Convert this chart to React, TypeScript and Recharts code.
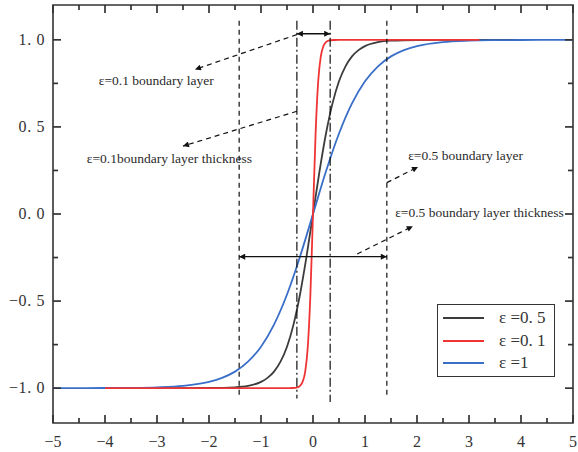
import React from "react";
import { LineChart, Line, XAxis, YAxis, ReferenceLine, ReferenceDot, ReferenceArea } from "recharts";

// x positions, one list per curve
const blueX = [-5, -4.5, -4, -3.5, -3, -2.5, -2, -1.75, -1.5, -1.25, -1, -0.75, -0.5, -0.25, 0, 0.25, 0.5, 0.75, 1, 1.25, 1.5, 1.75, 2, 2.5, 3, 3.5, 4, 4.5, 5];
const blueY = [-1, -1, -0.999, -0.998, -0.995, -0.987, -0.964, -0.941, -0.905, -0.848, -0.762, -0.635, -0.462, -0.245, 0, 0.245, 0.462, 0.635, 0.762, 0.848, 0.905, 0.941, 0.964, 0.987, 0.995, 0.998, 0.999, 1, 1];

const blackX = [-4, -3, -2, -1.5, -1.25, -1, -0.875, -0.75, -0.625, -0.5, -0.375, -0.25, -0.125, 0, 0.125, 0.25, 0.375, 0.5, 0.625, 0.75, 0.875, 1, 1.25, 1.5, 2, 3, 4];
const blackY = [-1, -1, -0.999, -0.995, -0.987, -0.964, -0.941, -0.905, -0.848, -0.762, -0.635, -0.462, -0.245, 0, 0.245, 0.462, 0.635, 0.762, 0.848, 0.905, 0.941, 0.964, 0.987, 0.995, 0.999, 1, 1];

const redX = [-4, -2, -1, -0.5, -0.4, -0.3, -0.25, -0.2, -0.15, -0.1, -0.05, 0, 0.05, 0.1, 0.15, 0.2, 0.25, 0.3, 0.4, 0.5, 1, 2, 3.2];
const redY = [-1, -1, -1, -1, -0.999, -0.995, -0.987, -0.964, -0.905, -0.762, -0.462, 0, 0.462, 0.762, 0.905, 0.964, 0.987, 0.995, 0.999, 1, 1, 1, 1];

const seriesNames = ["ε =0. 5", "ε =0. 1", "ε =1"];
const seriesColors = ["#3c3c3c", "#f03434", "#3a6fc8"];

const xTicks = [-5, -4.5, -4, -3.5, -3, -2.5, -2, -1.5, -1, -0.5, 0, 0.5, 1, 1.5, 2, 2.5, 3, 3.5, 4, 4.5, 5];
const xLabels: Record<number, string> = { "-5": "−5", "-4": "−4", "-3": "−3", "-2": "−2", "-1": "−1", 0: "0", 1: "1", 2: "2", 3: "3", 4: "4", 5: "5" };
const yTicks = [-1, -0.75, -0.5, -0.25, 0, 0.25, 0.5, 0.75, 1];
const yLabels: Record<number, string> = { "-1": "−1. 0", "-0.5": "−0. 5", 0: "0. 0", 0.5: "0. 5", 1: "1. 0" };

const toData = (xs: number[], ys: number[]) => xs.map((x, i) => ({ x, y: ys[i] }));
const blackData = toData(blackX, blackY);
const blueData = toData(blueX, blueY);
const redData = toData(redX, redY);

const X_MIN = -5, X_MAX = 5, Y_MIN = -1.2, Y_MAX = 1.2;
const AXIS = "#333";
const FONT = "'Liberation Serif', 'Times New Roman', serif";
const isMajorX = (v: number) => Math.abs(v - Math.round(v)) < 1e-6;
const isMajorY = (v: number) => Math.abs(v * 2 - Math.round(v * 2)) < 1e-6;

const BottomLabel = (p: any) =>
  isMajorX(p.payload.value) ? (
    <text x={p.x} y={p.y + 24} textAnchor="middle" fontSize={16} fontFamily={FONT} fill="#333">
      {xLabels[p.payload.value]}
    </text>
  ) : (
    <g />
  );
const LeftLabel = (p: any) =>
  isMajorY(p.payload.value) ? (
    <text x={p.x - 8} y={p.y + 5} textAnchor="end" fontSize={16} letterSpacing={0.6} fontFamily={FONT} fill="#333">
      {yLabels[p.payload.value]}
    </text>
  ) : (
    <g />
  );

// inward tick drawn from an anchor point on the frame: dx/dy give direction
const tickMark = (dx: number, dy: number, len: number) => (p: any) => (
  <line x1={p.cx} y1={p.cy} x2={p.cx + dx * len} y2={p.cy + dy * len} stroke={AXIS} strokeWidth={1.7} />
);

const seg = (dash: string, start?: string, end?: string, w = 1.2) => (p: any) => (
  <line
    x1={p.x1}
    y1={p.y1}
    x2={p.x2}
    y2={p.y2}
    stroke="#111"
    strokeWidth={w}
    strokeDasharray={dash || undefined}
    markerStart={start}
    markerEnd={end}
  />
);

const label = (text: string) => (p: any) => (
  <text x={p.cx} y={p.cy} fontSize={13.5} fontFamily={FONT} fill="#2a2a2a">
    {text}
  </text>
);

export default function App() {
  return (
    <div style={{ position: "absolute", left: 0, top: 0, width: 578, height: 452, background: "#fff" }}>
      <LineChart width={578} height={452} margin={{ top: 5, right: 5, bottom: 0, left: 0 }}>
        <defs>
          <marker id="head" viewBox="0 0 10 10" refX="10" refY="5" markerUnits="userSpaceOnUse" markerWidth="11" markerHeight="6" orient="auto-start-reverse">
            <path d="M0,0 L10,5 L0,10 z" fill="#111" />
          </marker>
        </defs>
        <XAxis type="number" dataKey="x" domain={[X_MIN, X_MAX]} ticks={xTicks} interval={0} allowDataOverflow height={29} tickSize={0} tickMargin={0} tickLine={false} axisLine={false} tick={BottomLabel} />
        <YAxis type="number" domain={[Y_MIN, Y_MAX]} ticks={yTicks} interval={0} allowDataOverflow width={53} tickSize={0} tickMargin={0} tickLine={false} axisLine={false} tick={LeftLabel} />

        <ReferenceArea x1={X_MIN} x2={X_MAX} y1={Y_MIN} y2={Y_MAX} fill="none" fillOpacity={0} stroke={AXIS} strokeWidth={1.6} ifOverflow="visible" />
        {xTicks.map((v) => (
          <ReferenceDot key={`b${v}`} x={v} y={Y_MIN} r={1} ifOverflow="visible" shape={tickMark(0, -1, isMajorX(v) ? 8 : 5)} />
        ))}
        {xTicks.map((v) => (
          <ReferenceDot key={`t${v}`} x={v} y={Y_MAX} r={1} ifOverflow="visible" shape={tickMark(0, 1, isMajorX(v) ? 8 : 5)} />
        ))}
        {yTicks.map((v) => (
          <ReferenceDot key={`l${v}`} x={X_MIN} y={v} r={1} ifOverflow="visible" shape={tickMark(1, 0, isMajorY(v) ? 8 : 5)} />
        ))}
        {yTicks.map((v) => (
          <ReferenceDot key={`r${v}`} x={X_MAX} y={v} r={1} ifOverflow="visible" shape={tickMark(-1, 0, isMajorY(v) ? 8 : 5)} />
        ))}

        <Line data={blackData} dataKey="y" type="monotone" stroke={seriesColors[0]} strokeWidth={1.8} dot={false} isAnimationActive={false} />
        <Line data={blueData} dataKey="y" type="monotone" stroke={seriesColors[2]} strokeWidth={1.8} dot={false} isAnimationActive={false} />
        <Line data={redData} dataKey="y" type="monotone" stroke={seriesColors[1]} strokeWidth={1.8} dot={false} isAnimationActive={false} />

        {/* boundary layer edges */}
        <ReferenceLine segment={[{ x: -1.42, y: 1.11 }, { x: -1.42, y: -1.06 }]} shape={seg("5 4")} />
        <ReferenceLine segment={[{ x: -0.31, y: 1.11 }, { x: -0.31, y: -1.06 }]} shape={seg("9 3 2 3")} />
        <ReferenceLine segment={[{ x: 0.33, y: 1.11 }, { x: 0.33, y: -1.08 }]} shape={seg("9 3 2 3")} />
        <ReferenceLine segment={[{ x: 1.42, y: 1.11 }, { x: 1.42, y: -1.05 }]} shape={seg("5 4")} />

        {/* thickness arrows */}
        <ReferenceLine segment={[{ x: -1.42, y: -0.245 }, { x: 1.42, y: -0.245 }]} shape={seg("", "url(#head)", "url(#head)", 1.4)} />
        <ReferenceLine segment={[{ x: -0.31, y: 1.035 }, { x: 0.33, y: 1.035 }]} shape={seg("", "url(#head)", "url(#head)", 1.4)} />

        {/* pointers to labels */}
        <ReferenceLine segment={[{ x: -0.31, y: 1.03 }, { x: -2.27, y: 0.83 }]} shape={seg("5 4", undefined, "url(#head)")} />
        <ReferenceLine segment={[{ x: -0.31, y: 0.59 }, { x: -2.5, y: 0.39 }]} shape={seg("5 4", undefined, "url(#head)")} />
        <ReferenceLine segment={[{ x: 1.42, y: 0.18 }, { x: 2.02, y: 0.27 }]} shape={seg("5 4", undefined, "url(#head)")} />
        <ReferenceLine segment={[{ x: 0.85, y: -0.23 }, { x: 1.92, y: -0.07 }]} shape={seg("5 4", undefined, "url(#head)")} />

        <ReferenceDot x={-4.12} y={0.74} shape={label("ε=0.1 boundary layer")} />
        <ReferenceDot x={-4.35} y={0.29} shape={label("ε=0.1boundary layer thickness")} />
        <ReferenceDot x={1.83} y={0.31} shape={label("ε=0.5 boundary layer")} />
        <ReferenceDot x={1.58} y={-0.015} shape={label("ε=0.5 boundary layer thickness")} />
      </LineChart>

      <div
        style={{
          position: "absolute",
          left: 437,
          top: 304,
          width: 116,
          height: 69,
          border: "1.5px solid #333",
          background: "#fff",
          boxSizing: "content-box",
          paddingTop: 2,
        }}
      >
        {seriesNames.map((name, i) => (
          <div key={name} style={{ display: "flex", alignItems: "center", height: 22.5 }}>
            <div style={{ width: 41, height: 2, background: seriesColors[i], marginLeft: 5, marginRight: 15 }} />
            <span style={{ fontFamily: FONT, fontSize: 17, color: "#333", lineHeight: "20px" }}>{name}</span>
          </div>
        ))}
      </div>
    </div>
  );
}
